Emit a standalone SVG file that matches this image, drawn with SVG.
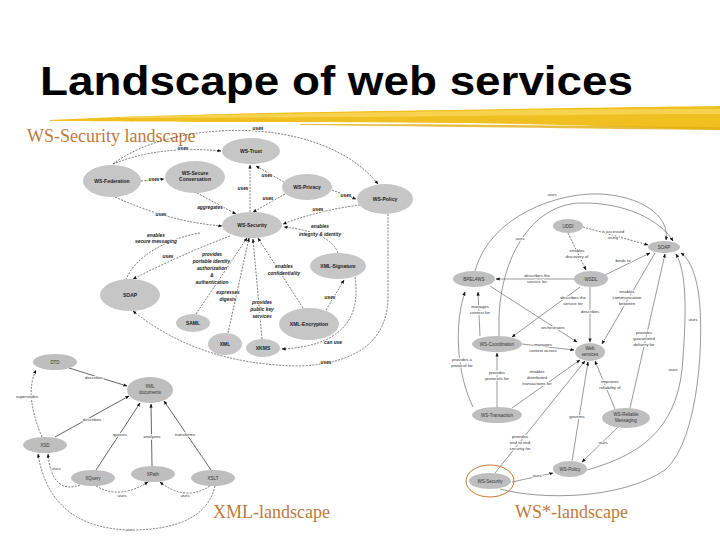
<svg xmlns="http://www.w3.org/2000/svg" width="720" height="540" viewBox="0 0 720 540">
<defs>
<marker id="a" viewBox="0 0 10 10" refX="9" refY="5" markerWidth="4" markerHeight="4" markerUnits="userSpaceOnUse" orient="auto"><path d="M0,1 L10,5 L0,9 z" fill="#111"/></marker>
<style>
.t{font-family:"Liberation Sans",Arial,sans-serif;font-weight:bold;fill:#000}
.cap{font-family:"Liberation Serif","Times New Roman",serif;font-size:18px;fill:#C07A3A}
.n{fill:#C6C6C6}
.n2{fill:#BEBEBE}
.nl{font-family:"Liberation Sans",Arial,sans-serif;font-size:5px;font-weight:bold;fill:#222;text-anchor:middle}
.nl2{font-family:"Liberation Sans",Arial,sans-serif;font-size:4.5px;fill:#333;text-anchor:middle}
.l{font-family:"Liberation Sans",Arial,sans-serif;font-size:4.8px;font-weight:bold;font-style:italic;fill:#222;text-anchor:middle;stroke:#fff;stroke-width:1.6px;paint-order:stroke}
.l2{font-family:"Liberation Sans",Arial,sans-serif;font-size:4.3px;fill:#333;text-anchor:middle;stroke:#fff;stroke-width:1.6px;paint-order:stroke}
.d{fill:none;stroke:#222;stroke-width:0.6;stroke-dasharray:2 1.3;marker-end:url(#a)}
.s{fill:none;stroke:#222;stroke-width:0.7;marker-end:url(#a)}
.w{fill:none;stroke:#333;stroke-width:0.5;marker-end:url(#a)}
.dn{fill:none;stroke:#222;stroke-width:0.6;stroke-dasharray:2 1.3}
</style>
</defs>
<rect width="720" height="540" fill="#fff"/>

<!-- title -->
<text class="t" x="40" y="95" font-size="41" textLength="593" lengthAdjust="spacingAndGlyphs">Landscape of web services</text>
<g id="brush">
<path d="M50,120 C150,115 300,112 450,110 C560,108 650,107 720,106 L720,130 C650,128 560,124 450,123 C300,122 150,122 50,121 Z" fill="#F0C020"/>
<path d="M120,117 C250,114 400,112 520,110 C600,109 660,109 720,109 L720,114 C640,114 560,115 460,116 C350,117 230,118 120,118 Z" fill="#F7D65A" opacity="0.8"/>
<path d="M300,124 C420,124 540,125 720,127 L720,130 C600,129 480,127 300,125 Z" fill="#E2AE10" opacity="0.8"/>
</g>

<text class="cap" x="27" y="142">WS-Security landscape</text>
<text class="cap" x="213" y="518">XML-landscape</text>
<text class="cap" x="515" y="518">WS*-landscape</text>

<!-- ===== WS-Security landscape ===== -->
<g id="sec-connectors">
<path class="d" d="M113,164 Q160,145 221,151"/>
<path class="d" d="M113,164 C170,120 320,112 378,184"/>
<path class="d" d="M141,181 L164,179"/>
<path class="d" d="M115,197 Q170,222 222,226"/>
<path class="d" d="M197,193 L236,214"/>
<path class="d" d="M250,212 L250,165"/>
<path class="d" d="M284,182 L256,166"/>
<path class="d" d="M285,194 L253,212"/>
<path class="d" d="M332,190 L356,199"/>
<path class="d" d="M360,205 Q320,210 283,224"/>
<path class="d" d="M230,236 Q180,255 133,279"/>
<path class="dn" d="M126,280 C135,255 170,238 200,233"/>
<path class="d" d="M196,314 L247,238"/>
<path class="d" d="M228,333 L249,238"/>
<path class="d" d="M262,339 L253,239"/>
<path class="d" d="M303,308 L258,238"/>
<path class="d" d="M338,253 Q330,232 284,227"/>
<path class="d" d="M326,310 L344,280"/>
<path class="d" d="M355,277 Q365,345 282,349"/>
<path class="d" d="M388,214 L388,300 Q385,362 300,366 Q200,365 133,311"/>
<text class="l" x="183" y="150">uses</text>
<text class="l" x="258" y="130">uses</text>
<text class="l" x="154" y="181">uses</text>
<text class="l" x="161" y="216">uses</text>
<text class="l" x="210" y="209">aggregates</text>
<text class="l" x="243" y="190">uses</text>
<text class="l" x="267" y="177">uses</text>
<text class="l" x="268" y="200">uses</text>
<text class="l" x="346" y="197">uses</text>
<text class="l" x="318" y="211">uses</text>
<text class="l" x="156" y="237">enables</text>
<text class="l" x="156" y="243">secure messaging</text>
<text class="l" x="168" y="258">uses</text>
<text class="l" x="212" y="256">provides</text>
<text class="l" x="212" y="263">portable identity,</text>
<text class="l" x="212" y="270">authorization</text>
<text class="l" x="212" y="277">&amp;</text>
<text class="l" x="212" y="284">authentication</text>
<text class="l" x="228" y="294">expresses</text>
<text class="l" x="228" y="301">digests</text>
<text class="l" x="262" y="304">provides</text>
<text class="l" x="262" y="311">public key</text>
<text class="l" x="262" y="318">services</text>
<text class="l" x="284" y="268">enables</text>
<text class="l" x="284" y="275">confidentiality</text>
<text class="l" x="320" y="228">enables</text>
<text class="l" x="320" y="236">integrity &amp; identity</text>
<text class="l" x="330" y="299">uses</text>
<text class="l" x="333" y="344">can use</text>
<text class="l" x="326" y="364">uses</text>
</g>
<g id="ws-trust"><ellipse class="n" cx="251" cy="151" rx="29" ry="13"/><text class="nl" x="251" y="153">WS-Trust</text></g>
<g id="ws-federation"><ellipse class="n" cx="112" cy="181" rx="29" ry="16"/><text class="nl" x="112" y="183">WS-Federation</text></g>
<g id="ws-secconv"><ellipse class="n" cx="195" cy="177" rx="30" ry="16"/><text class="nl" x="195" y="175">WS-Secure</text><text class="nl" x="195" y="181">Conversation</text></g>
<g id="ws-privacy"><ellipse class="n" cx="307" cy="187" rx="25" ry="13"/><text class="nl" x="307" y="189">WS-Privacy</text></g>
<g id="ws-policy"><ellipse class="n" cx="385" cy="199" rx="28" ry="15"/><text class="nl" x="385" y="201">WS-Policy</text></g>
<g id="ws-security"><ellipse class="n" cx="252" cy="225" rx="30" ry="13"/><text class="nl" x="252" y="227">WS-Security</text></g>
<g id="xml-signature"><ellipse class="n" cx="338" cy="266" rx="28" ry="13"/><text class="nl" x="338" y="268">XML-Signature</text></g>
<g id="soap1"><ellipse class="n" cx="130" cy="295" rx="30" ry="16"/><text class="nl" x="130" y="297">SOAP</text></g>
<g id="saml"><ellipse class="n" cx="193" cy="323" rx="17" ry="9"/><text class="nl" x="193" y="325">SAML</text></g>
<g id="xml-encryption"><ellipse class="n" cx="309" cy="324" rx="30" ry="16"/><text class="nl" x="309" y="326">XML-Encryption</text></g>
<g id="xml1"><ellipse class="n" cx="225" cy="344" rx="17" ry="11"/><text class="nl" x="225" y="346">XML</text></g>
<g id="xkms"><ellipse class="n" cx="263" cy="348" rx="17" ry="9"/><text class="nl" x="263" y="350">XKMS</text></g>

<!-- ===== XML landscape ===== -->
<g id="xml-connectors">
<path class="s" d="M69,368 L127,386"/>
<path class="d" d="M42,437 Q24,395 36,370"/>
<path class="s" d="M55,437 L129,396"/>
<path class="s" d="M96,470 L140,403"/>
<path class="s" d="M152,466 L151,404"/>
<path class="s" d="M211,470 L164,401"/>
<path class="d" d="M80,485 Q52,495 48,454"/>
<path class="d" d="M96,486 Q120,500 148,482"/>
<path class="d" d="M210,486 Q185,502 160,482"/>
<path class="d" d="M215,486 Q205,530 130,530 Q50,528 38,454"/>
<text class="l2" x="94" y="379">describes</text>
<text class="l2" x="27" y="398">supersedes</text>
<text class="l2" x="92" y="421">describes</text>
<text class="l2" x="120" y="436">queries</text>
<text class="l2" x="152" y="438">analyzes</text>
<text class="l2" x="185" y="436">transforms</text>
<text class="l2" x="56" y="470">uses</text>
<text class="l2" x="122" y="497">uses</text>
<text class="l2" x="185" y="497">uses</text>
<text class="l2" x="130" y="531">uses</text>
</g>
<g id="dtd"><ellipse class="n2" cx="55" cy="362" rx="22" ry="8"/><text class="nl2" x="55" y="364">DTD</text></g>
<g id="xml-documents"><ellipse class="n2" cx="150" cy="390" rx="23" ry="13"/><text class="nl2" x="150" y="388">XML</text><text class="nl2" x="150" y="394">documents</text></g>
<g id="xsd"><ellipse class="n2" cx="45" cy="445" rx="22" ry="8"/><text class="nl2" x="45" y="447">XSD</text></g>
<g id="xquery"><ellipse class="n2" cx="93" cy="478" rx="22" ry="8"/><text class="nl2" x="93" y="480">XQuery</text></g>
<g id="xpath"><ellipse class="n2" cx="153" cy="474" rx="22" ry="8"/><text class="nl2" x="153" y="476">XPath</text></g>
<g id="xslt"><ellipse class="n2" cx="213" cy="478" rx="22" ry="8"/><text class="nl2" x="213" y="480">XSLT</text></g>

<!-- ===== WS* landscape ===== -->
<g id="ws-connectors">
<path class="w" d="M475,271 C490,215 560,192 600,194 C640,196 670,215 666,240"/>
<path class="w" d="M499,336 L499,320 C500,260 530,205 580,203 C625,202 660,220 673,241"/>
<path class="w" d="M473,407 C455,370 455,320 465,292"/>
<path class="w" d="M480,336 L478,292"/>
<path class="w" d="M490,286 L577,342"/>
<path class="w" d="M575,279 L496,279"/>
<path class="d" d="M568,233 L586,270"/>
<path class="d" d="M583,227 L648,245"/>
<path class="w" d="M605,275 L650,253"/>
<path class="w" d="M580,287 L512,337"/>
<path class="w" d="M590,287 L590,342"/>
<path class="w" d="M655,253 L602,344"/>
<path class="w" d="M630,408 L665,254"/>
<path class="w" d="M522,344 L574,350"/>
<path class="w" d="M497,407 L497,353"/>
<path class="w" d="M512,408 L580,360"/>
<path class="w" d="M615,409 L595,361"/>
<path class="w" d="M572,461 L588,362"/>
<path class="w" d="M618,427 L582,462"/>
<path class="w" d="M495,473 L585,361"/>
<path class="w" d="M512,482 L553,473"/>
<path class="w" d="M587,470 C640,455 675,430 682,370 C686,320 688,275 676,254"/>
<path class="w" d="M500,489 C540,500 620,500 665,470 C700,440 705,330 698,290 C694,268 688,258 681,253"/>
<text class="l2" x="552" y="196">uses</text>
<text class="l2" x="520" y="240">uses</text>
<text class="l2" x="480" y="308">manages</text>
<text class="l2" x="480" y="314">context for</text>
<text class="l2" x="462" y="361">provides a</text>
<text class="l2" x="462" y="367">protocol for</text>
<text class="l2" x="553" y="329">orchestrates</text>
<text class="l2" x="537" y="277">describes the</text>
<text class="l2" x="537" y="283">service for</text>
<text class="l2" x="577" y="252">enables</text>
<text class="l2" x="577" y="258">discovery of</text>
<text class="l2" x="613" y="233">is accessed</text>
<text class="l2" x="613" y="239">using</text>
<text class="l2" x="623" y="262">binds to</text>
<text class="l2" x="573" y="299">describes the</text>
<text class="l2" x="573" y="305">service for</text>
<text class="l2" x="590" y="313">describes</text>
<text class="l2" x="627" y="293">enables</text>
<text class="l2" x="627" y="299">communication</text>
<text class="l2" x="627" y="305">between</text>
<text class="l2" x="644" y="334">provides</text>
<text class="l2" x="644" y="340">guaranteed</text>
<text class="l2" x="644" y="346">delivery for</text>
<text class="l2" x="543" y="346">manages</text>
<text class="l2" x="543" y="352">context across</text>
<text class="l2" x="497" y="374">provides</text>
<text class="l2" x="497" y="380">protocols for</text>
<text class="l2" x="537" y="373">enables</text>
<text class="l2" x="537" y="379">distributed</text>
<text class="l2" x="537" y="385">transactions for</text>
<text class="l2" x="610" y="383">improves</text>
<text class="l2" x="610" y="389">reliability of</text>
<text class="l2" x="577" y="418">governs</text>
<text class="l2" x="603" y="444">uses</text>
<text class="l2" x="520" y="438">provides</text>
<text class="l2" x="520" y="444">end to end</text>
<text class="l2" x="520" y="450">security for</text>
<text class="l2" x="537" y="477">uses</text>
<text class="l2" x="673" y="371">uses</text>
<text class="l2" x="693" y="321">uses</text>
</g>
<g id="uddi"><ellipse class="n2" cx="568" cy="226" rx="15" ry="7"/><text class="nl2" x="568" y="228">UDDI</text></g>
<g id="soap2"><ellipse class="n2" cx="664" cy="247" rx="16" ry="6"/><text class="nl2" x="664" y="249">SOAP</text></g>
<g id="bpel4ws"><ellipse class="n2" cx="474" cy="279" rx="21" ry="8"/><text class="nl2" x="474" y="281">BPEL4WS</text></g>
<g id="wsdl"><ellipse class="n2" cx="591" cy="279" rx="17" ry="8"/><text class="nl2" x="591" y="281">WSDL</text></g>
<g id="ws-coordination"><ellipse class="n2" cx="497" cy="344" rx="25" ry="8"/><text class="nl2" x="497" y="346">WS-Coordination</text></g>
<g id="web-services"><ellipse class="n2" cx="590" cy="352" rx="15" ry="9"/><text class="nl2" x="590" y="350">Web</text><text class="nl2" x="590" y="356">services</text></g>
<g id="ws-transaction"><ellipse class="n2" cx="497" cy="415" rx="25" ry="8"/><text class="nl2" x="497" y="417">WS-Transaction</text></g>
<g id="ws-rm"><ellipse class="n2" cx="626" cy="418" rx="24" ry="10"/><text class="nl2" x="626" y="416">WS-Reliable</text><text class="nl2" x="626" y="422">Messaging</text></g>
<g id="ws-policy2"><ellipse class="n2" cx="570" cy="469" rx="17" ry="8"/><text class="nl2" x="570" y="471">WS-Policy</text></g>
<g id="ws-security2"><ellipse class="n2" cx="490" cy="481" rx="21" ry="8"/><text class="nl2" x="490" y="483">WS-Security</text><ellipse cx="490" cy="481" rx="24" ry="16" fill="none" stroke="#C87830" stroke-width="1"/></g>
</svg>
